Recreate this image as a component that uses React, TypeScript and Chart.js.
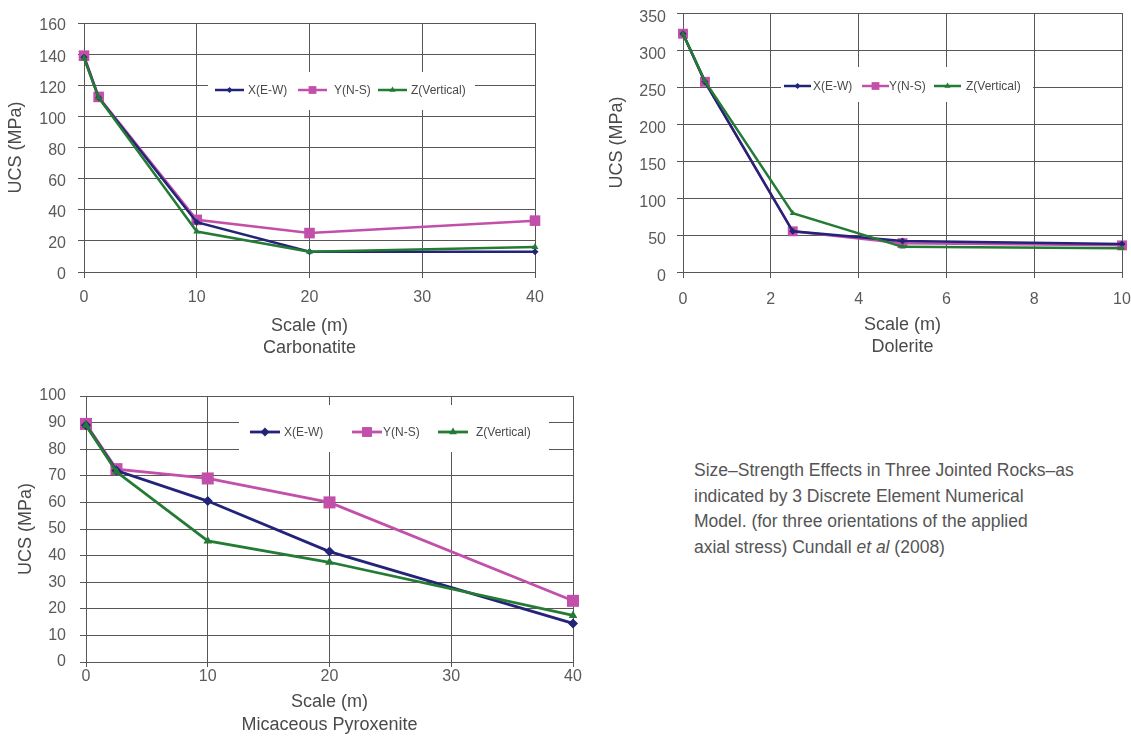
import React, { useEffect, useRef } from 'react';
import { Chart, registerables } from 'chart.js';

Chart.register(...registerables);

// ---------- data ----------
const SERIES_NAMES = ['X(E-W)', 'Y(N-S)', 'Z(Vertical)'];

const carbScale = [0, 1.3, 10, 20, 40];
const carbX = [138, 112, 32, 13, 13];
const carbY = [139, 112.5, 33.5, 25, 33];
const carbZ = [137.5, 112, 26, 13, 16];

const dolScale = [0, 0.5, 2.5, 5, 10];
const dolX = [322, 257, 55, 42, 38];
const dolY = [322, 257, 55, 39, 36];
const dolZ = [322, 258, 79.5, 34, 32];

const pyxScale = [0, 2.5, 10, 20, 40];
const pyxX = [89, 72, 60.5, 41.5, 14.5];
const pyxY = [89.5, 72.5, 69, 60, 23];
const pyxZ = [89, 71.5, 45.5, 37.5, 17.5];

const carbAxis = { xMax: 40, xStep: 10, yMax: 160, yStep: 20 };
const dolAxis = { xMax: 10, xStep: 2, yMax: 350, yStep: 50 };
const pyxAxis = { xMax: 40, xStep: 10, yMax: 100, yStep: 10 };

const X_TITLE = 'Scale (m)';
const Y_TITLE = 'UCS (MPa)';
const ROCKS = ['Carbonatite', 'Dolerite', 'Micaceous Pyroxenite'];

const CAPTION_LINES = [
  'Size–Strength Effects in Three Jointed Rocks–as',
  'indicated by 3 Discrete Element Numerical',
  'Model. (for three orientations of the applied',
];

// ---------- styles ----------
const FONT = "'Liberation Sans', Arial, sans-serif";
const NAVY = '#232379';
const MAGENTA = '#c250aa';
const GREEN = '#237b34';
const GRID = '#5a5656';
const TICK = '#5a5a5a';
const TITLE = '#4a4a4a';

function drawMarker(ctx: CanvasRenderingContext2D, style: string, x: number, y: number, r: number, color: string) {
  ctx.save();
  ctx.fillStyle = color;
  ctx.beginPath();
  if (style === 'rect') {
    const s = Math.SQRT1_2 * r;
    ctx.rect(x - s, y - s, 2 * s, 2 * s);
  } else if (style === 'rectRot') {
    ctx.moveTo(x - r, y);
    ctx.lineTo(x, y - r);
    ctx.lineTo(x + r, y);
    ctx.lineTo(x, y + r);
    ctx.closePath();
  } else {
    let a = 0;
    ctx.moveTo(x + Math.sin(a) * r, y - Math.cos(a) * r);
    a += (2 * Math.PI) / 3;
    ctx.lineTo(x + Math.sin(a) * r, y - Math.cos(a) * r);
    a += (2 * Math.PI) / 3;
    ctx.lineTo(x + Math.sin(a) * r, y - Math.cos(a) * r);
    ctx.closePath();
  }
  ctx.fill();
  ctx.restore();
}

function makeLegendPlugin(cfg: any) {
  return {
    id: 'insetLegend',
    beforeDatasetsDraw(chart: any) {
      const ctx: CanvasRenderingContext2D = chart.ctx;
      ctx.save();
      ctx.fillStyle = '#ffffff';
      ctx.fillRect(cfg.box.x, cfg.box.y, cfg.box.w, cfg.box.h);
      ctx.font = `12px ${FONT}`;
      ctx.textBaseline = 'middle';
      ctx.textAlign = 'left';
      chart.data.datasets.forEach((ds: any, i: number) => {
        const it = cfg.items[i];
        ctx.strokeStyle = ds.borderColor;
        ctx.lineWidth = ds.borderWidth;
        ctx.beginPath();
        ctx.moveTo(it.lx, cfg.cy);
        ctx.lineTo(it.lx + cfg.lineLen, cfg.cy);
        ctx.stroke();
        drawMarker(ctx, ds.pointStyle, it.lx + cfg.lineLen / 2, cfg.cy, cfg.markerR[i], ds.pointBackgroundColor);
        ctx.fillStyle = TITLE;
        ctx.fillText(ds.label, it.tx, cfg.cy + 0.5);
      });
      ctx.restore();
    },
  };
}

function makeConfig(p: any) {
  const mk = (i: number, ys: number[], color: string, style: string, r: number, order: number) => ({
    label: SERIES_NAMES[i],
    data: p.xs.map((x: number, k: number) => ({ x, y: ys[k] })),
    borderColor: color,
    backgroundColor: color,
    pointBackgroundColor: color,
    pointBorderColor: color,
    pointBorderWidth: 0,
    borderWidth: p.lineW,
    pointStyle: style,
    pointRadius: r,
    pointHoverRadius: r,
    tension: 0,
    clip: false,
    order,
  });
  return {
    type: 'line',
    data: {
      datasets: [
        mk(0, p.sx, NAVY, 'rectRot', p.r[0], 1),
        mk(1, p.sy, MAGENTA, 'rect', p.r[1], 2),
        mk(2, p.sz, GREEN, 'triangle', p.r[2], 0),
      ],
    },
    options: {
      animation: false,
      responsive: false,
      layout: { padding: p.padding },
      plugins: { legend: { display: false }, tooltip: { enabled: false } },
      scales: {
        x: {
          type: 'linear',
          min: 0,
          max: p.axis.xMax,
          ticks: { stepSize: p.axis.xStep, padding: p.xTickPad, color: TICK, font: { family: FONT, size: 16 } },
          grid: { color: GRID, lineWidth: 1, tickLength: p.xTickLen, drawTicks: true },
          border: { color: GRID, width: 1 },
          title: {
            display: true,
            text: [X_TITLE, p.rock],
            color: TITLE,
            font: { family: FONT, size: 18, lineHeight: p.titleLH },
            padding: { top: 0, bottom: p.xTitlePadB },
          },
          afterFit: (s: any) => {
            s.height = p.xAxisH;
            s.paddingLeft = 0;
            s.paddingRight = 0;
          },
        },
        y: {
          type: 'linear',
          min: 0,
          max: p.axis.yMax,
          ticks: {
            stepSize: p.axis.yStep,
            padding: p.yTickPad,
            labelOffset: p.yLabelOffset,
            color: TICK,
            font: { family: FONT, size: 16 },
          },
          grid: { color: GRID, lineWidth: 1, tickLength: 6, drawTicks: true },
          border: { color: GRID, width: 1 },
          title: {
            display: true,
            text: Y_TITLE,
            color: TITLE,
            font: { family: FONT, size: 18, lineHeight: 1.2 },
            padding: { top: p.yTitlePadT, bottom: 0 },
          },
          afterFit: (s: any) => {
            s.width = p.yAxisW;
            s.paddingTop = 0;
            s.paddingBottom = 0;
          },
        },
      },
    },
    plugins: [makeLegendPlugin(p.legend)],
  };
}

const PANELS = [
  {
    key: 'carb',
    left: 0, top: 0, width: 560, height: 360,
    xs: carbScale, sx: carbX, sy: carbY, sz: carbZ, axis: carbAxis, rock: ROCKS[0],
    padding: { left: 0, top: 23, right: 25, bottom: 0 },
    yAxisW: 84, xAxisH: 88, xTickPad: 10, xTickLen: 6, yTickPad: 12, yLabelOffset: 3,
    xTitlePadB: 1, titleLH: 22 / 18, yTitlePadT: 5,
    lineW: 2.5, r: [3.5, 7.5, 4],
    legend: {
      box: { x: 208, y: 72, w: 267, h: 38 }, cy: 90, lineLen: 29, markerR: [3, 5.5, 3.5],
      items: [{ lx: 215, tx: 248 }, { lx: 298, tx: 334 }, { lx: 378, tx: 411 }],
    },
  },
  {
    key: 'dol',
    left: 580, top: 0, width: 551, height: 360,
    xs: dolScale, sx: dolX, sy: dolY, sz: dolZ, axis: dolAxis, rock: ROCKS[1],
    padding: { left: 0, top: 13, right: 9, bottom: 0 },
    yAxisW: 103, xAxisH: 88, xTickPad: 12, xTickLen: 6, yTickPad: 11, yLabelOffset: 5,
    xTitlePadB: 2, titleLH: 22 / 18, yTitlePadT: 26,
    lineW: 2.5, r: [3.5, 7, 3.5],
    legend: {
      box: { x: 201, y: 67, w: 252, h: 35 }, cy: 86, lineLen: 27, markerR: [3, 5.5, 3.5],
      items: [{ lx: 204, tx: 233 }, { lx: 282, tx: 309 }, { lx: 354, tx: 386 }],
    },
  },
  {
    key: 'pyx',
    left: 0, top: 380, width: 600, height: 357,
    xs: pyxScale, sx: pyxX, sy: pyxY, sz: pyxZ, axis: pyxAxis, rock: ROCKS[2],
    padding: { left: 0, top: 16, right: 27, bottom: 0 },
    yAxisW: 86, xAxisH: 75, xTickPad: 0, xTickLen: 5, yTickPad: 14, yLabelOffset: 0,
    xTitlePadB: 0, titleLH: 23 / 18, yTitlePadT: 15,
    lineW: 2.8, r: [5, 8.5, 5],
    legend: {
      box: { x: 239, y: 25, w: 310, h: 47 }, cy: 52, lineLen: 30, markerR: [4.5, 7, 4.5],
      items: [{ lx: 250, tx: 284 }, { lx: 352, tx: 383 }, { lx: 438, tx: 476 }],
    },
  },
];

function Panel({ p }: { p: any }) {
  const ref = useRef<HTMLCanvasElement>(null);
  useEffect(() => {
    const chart = new Chart(ref.current as HTMLCanvasElement, makeConfig(p) as any);
    return () => chart.destroy();
  }, [p]);
  return (
    <canvas
      ref={ref}
      width={p.width}
      height={p.height}
      style={{ position: 'absolute', left: p.left, top: p.top, width: p.width, height: p.height, display: 'block' }}
    />
  );
}

export default function App() {
  return (
    <div
      style={{
        position: 'absolute',
        left: 0,
        top: 0,
        width: 1131,
        height: 737,
        background: '#ffffff',
        overflow: 'hidden',
      }}
    >
      {PANELS.map((p) => (
        <Panel key={p.key} p={p} />
      ))}
      <div
        style={{
          position: 'absolute',
          left: 694,
          top: 458,
          fontFamily: FONT,
          fontSize: 17.5,
          lineHeight: '25.7px',
          color: '#555555',
          whiteSpace: 'nowrap',
        }}
      >
        {CAPTION_LINES.map((l, i) => (
          <div key={i}>{l}</div>
        ))}
        <div>
          axial stress) Cundall <i>et al</i> (2008)
        </div>
      </div>
    </div>
  );
}
